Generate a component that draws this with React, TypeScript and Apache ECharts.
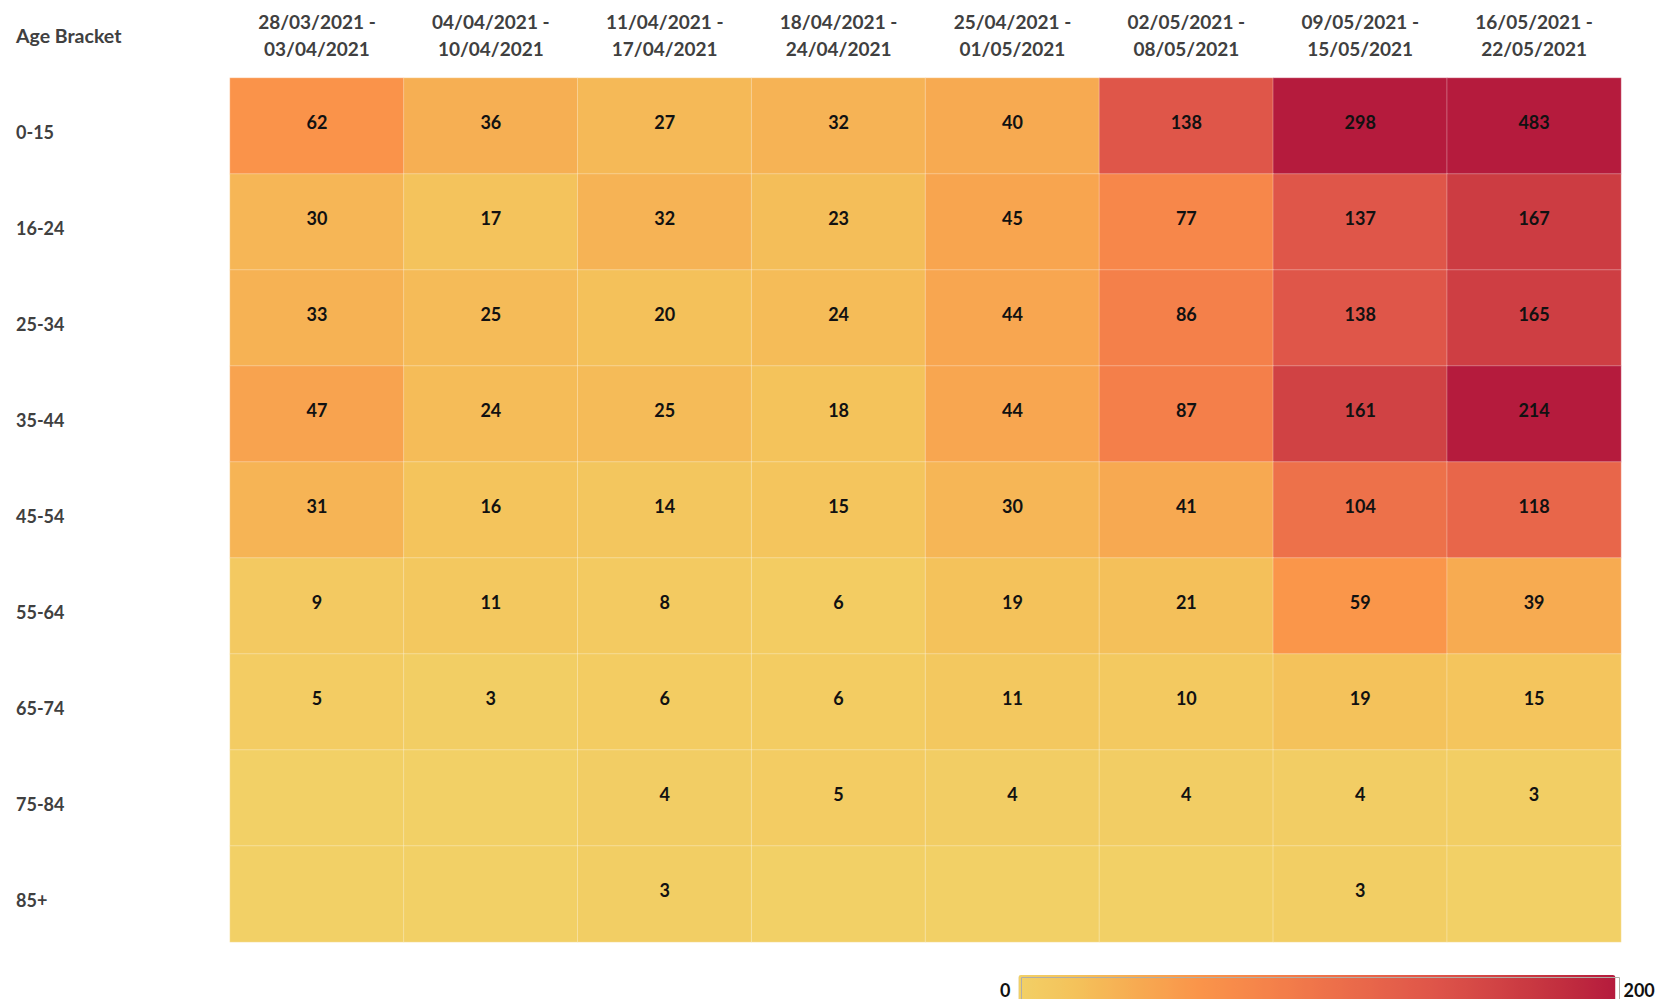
import React, { useEffect, useRef } from "react";
import * as echarts from "echarts";

const weeks = [
  "28/03/2021 -\n03/04/2021",
  "04/04/2021 -\n10/04/2021",
  "11/04/2021 -\n17/04/2021",
  "18/04/2021 -\n24/04/2021",
  "25/04/2021 -\n01/05/2021",
  "02/05/2021 -\n08/05/2021",
  "09/05/2021 -\n15/05/2021",
  "16/05/2021 -\n22/05/2021",
];

const ageBrackets = ["0-15", "16-24", "25-34", "35-44", "45-54", "55-64", "65-74", "75-84", "85+"];

// 0 = no reported cases (cell shown without a number)
const cases0to15 = [62, 36, 27, 32, 40, 138, 298, 483];
const cases16to24 = [30, 17, 32, 23, 45, 77, 137, 167];
const cases25to34 = [33, 25, 20, 24, 44, 86, 138, 165];
const cases35to44 = [47, 24, 25, 18, 44, 87, 161, 214];
const cases45to54 = [31, 16, 14, 15, 30, 41, 104, 118];
const cases55to64 = [9, 11, 8, 6, 19, 21, 59, 39];
const cases65to74 = [5, 3, 6, 6, 11, 10, 19, 15];
const cases75to84 = [0, 0, 4, 5, 4, 4, 4, 3];
const cases85plus = [0, 0, 3, 0, 0, 0, 3, 0];

const rows = [
  cases0to15,
  cases16to24,
  cases25to34,
  cases35to44,
  cases45to54,
  cases55to64,
  cases65to74,
  cases75to84,
  cases85plus,
];

const scaleMin = 0;
const scaleMax = 200;

const FONT = "Lato, 'Open Sans', sans-serif";

export default function App() {
  const ref = useRef<HTMLDivElement>(null);

  useEffect(() => {
    if (!ref.current) return;
    const chart = echarts.init(ref.current, undefined, { renderer: "svg" });
    const data: [number, number, number][] = [];
    rows.forEach((r, yi) => r.forEach((v, xi) => data.push([xi, yi, v])));

    chart.setOption({
      animation: false,
      backgroundColor: "#ffffff",
      title: {
        text: "Age Bracket",
        left: 16,
        top: 25,
        padding: 0,
        textStyle: { fontFamily: FONT, fontSize: 19.5, fontWeight: "bold", color: "#404040" },
      },
      grid: { left: 230, right: 34, top: 78, bottom: 57 },
      xAxis: {
        type: "category",
        position: "top",
        data: weeks,
        axisLine: { show: false },
        axisTick: { show: false },
        splitLine: { show: false },
        axisLabel: {
          interval: 0,
          margin: 16,
          lineHeight: 27,
          fontFamily: FONT,
          fontSize: 19,
          fontWeight: "bold",
          color: "#404040",
        },
      },
      yAxis: {
        type: "category",
        data: ageBrackets,
        inverse: true,
        axisLine: { show: false },
        axisTick: { show: false },
        splitLine: { show: false },
        axisLabel: {
          align: "left",
          verticalAlign: "top",
          lineHeight: 11,
          margin: 214,
          fontFamily: FONT,
          fontSize: 18,
          fontWeight: "bold",
          color: "#404040",
        },
      },
      visualMap: {
        type: "continuous",
        min: scaleMin,
        max: scaleMax,
        orient: "horizontal",
        left: 985,
        top: 960,
        itemWidth: 30,
        itemHeight: 597,
        calculable: false,
        text: ["200", "0"],
        textGap: 8,
        textStyle: { fontFamily: FONT, fontSize: 18, fontWeight: "bold", color: "#111" },
        inRange: {
          color: [
            "#f2d066",
            "#f4c15a",
            "#f7aa51",
            "#fa954a",
            "#f6854a",
            "#ef744a",
            "#e7644a",
            "#de5449",
            "#d14344",
            "#c3303f",
            "#b51b3d",
          ],
        },
      },
      graphic: [
        {
          type: "rect",
          left: 1019,
          top: 975,
          z: 100,
          silent: true,
          shape: { width: 598, height: 31 },
          style: { fill: "none", stroke: "#b0aea6", lineWidth: 1 },
        },
      ],
      series: [
        {
          type: "heatmap",
          data,
          itemStyle: { borderColor: "rgba(255,255,255,0.3)", borderWidth: 1 },
          label: {
            show: true,
            offset: [0, -4],
            fontFamily: FONT,
            fontSize: 18,
            fontWeight: "bold",
            color: "#111",
            formatter: (p: any) => (p.value[2] === 0 ? "" : String(p.value[2])),
          },
          emphasis: { disabled: true },
        },
      ],
    });
    return () => chart.dispose();
  }, []);

  return (
    <div
      ref={ref}
      style={{ position: "fixed", left: 0, top: 0, width: 1655, height: 999 }}
    />
  );
}
